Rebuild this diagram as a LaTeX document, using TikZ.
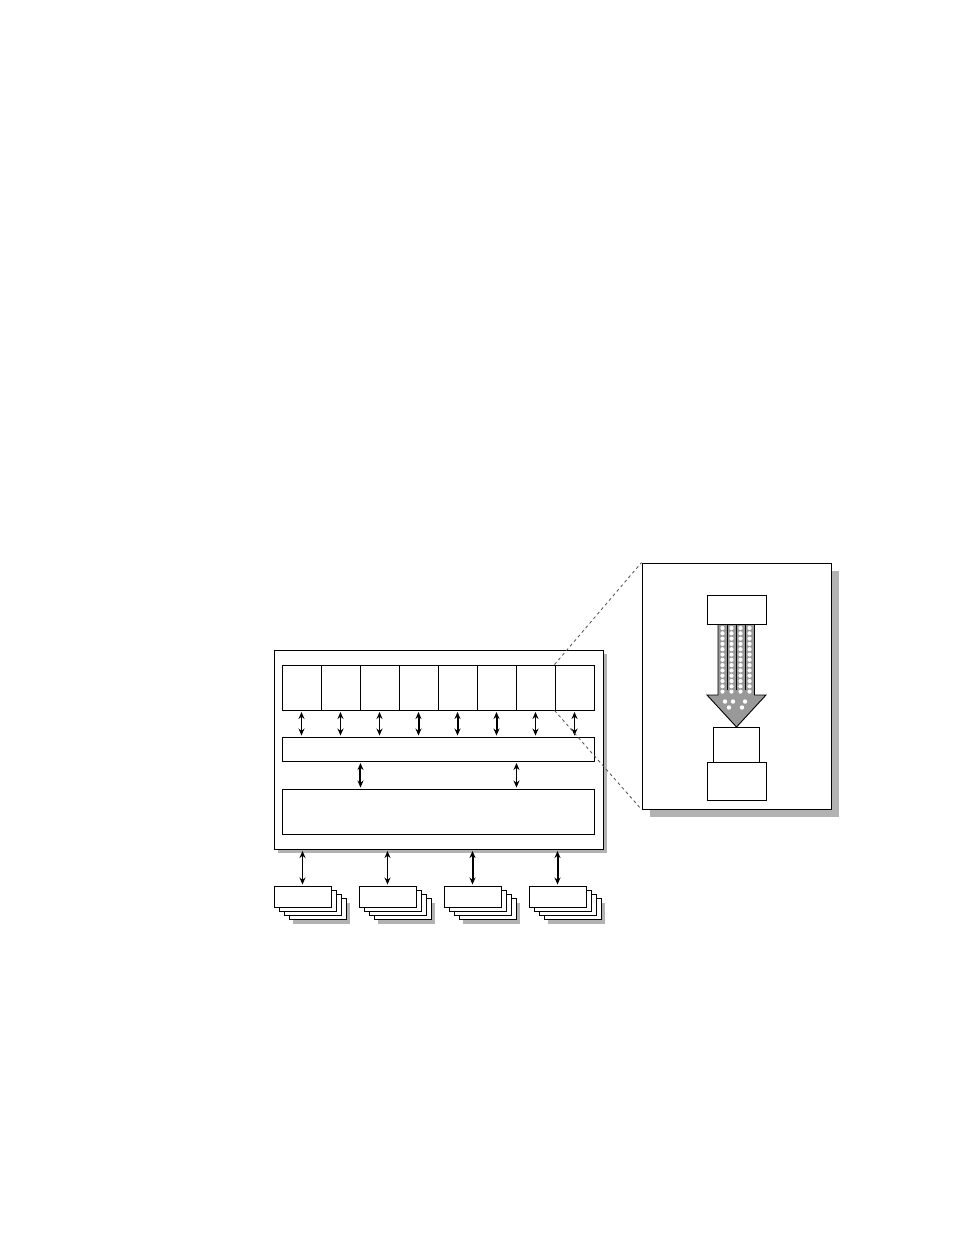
\documentclass[tikz,border=0pt]{standalone}
\usetikzlibrary{arrows.meta,positioning}

\begin{document}
\begin{tikzpicture}[x=1pt, y=-1pt,
	box/.style={draw, fill=white, line width=0.95pt, inner sep=0pt},
	shade/.style={fill=black!30, draw=none},
	link/.style={{Stealth[length=7pt,width=6pt]}-{Stealth[length=7pt,width=6pt]}, line width=1.4pt, shorten <=1.5pt, shorten >=1pt},
	heavy/.style={link, line width=2pt},
	zoomline/.style={draw=black!70, line width=0.8pt, dash pattern=on 3pt off 3pt}]
	\useasboundingbox (0, 0) rectangle (954, 1235);
	% main board
	\fill [shade] (278, 654) rectangle (607, 853);
	\node [box, minimum width=329pt, minimum height=199pt] (board) at (438.5, 749.5) {};
	\foreach \i in {1,...,8}
		\node [box, minimum width=39pt, minimum height=45pt] (cell\i) at ({282+39*(\i-0.5)}, 687.5) {};
	\node [box, minimum width=312pt, minimum height=24pt] (bus) at (438, 749) {};
	\node [box, minimum width=312pt, minimum height=45pt] (mem) at (438, 811.5) {};
	\foreach \i in {1,2,3,7,8}
		\draw [link] (cell\i.south) -- (cell\i.south |- bus.north);
	\foreach \i in {4,5,6}
		\draw [heavy] (cell\i.south) -- (cell\i.south |- bus.north);
	\draw [heavy] (bus.south -| cell2.east) -- (mem.north -| cell2.east);
	\draw [link] (bus.south -| cell6.east) -- (mem.north -| cell6.east);
	% stacked cards
	\foreach \g in {1,...,4} {
		\fill [shade] ({302.5+85*(\g-1)+19}, {896.5+13+4}) ++(-28.5, -10.5) rectangle ++(57, 21);
		\foreach \k in {3,2,1}
			\node [box, minimum width=57pt, minimum height=21pt] at ({302.5+85*(\g-1)+5*\k}, {896.5+4.3*\k}) {};
		\node [box, minimum width=57pt, minimum height=21pt] (stack\g) at ({302.5+85*(\g-1)}, 896.5) {};
	}
	\draw [link] (stack1.north |- board.south) -- (stack1.north);
	\draw [link] (stack2.north |- board.south) -- (stack2.north);
	\draw [heavy] (stack3.north |- board.south) -- (stack3.north);
	\draw [heavy] (stack4.north |- board.south) -- (stack4.north);
	% zoomed panel
	\fill [shade] (650, 571) rectangle (839, 817);
	\node [box, minimum width=189pt, minimum height=246pt] (panel) at (736.5, 686) {};
	\draw [fill=black!40, line width=0.9pt] (718, 624) -- (718, 695) -- (707, 695) -- (736.5, 727)
		-- (766, 695) -- (754.5, 695) -- (754.5, 624) -- cycle;
	\foreach \c in {722.5, 731.5, 740.5, 749.5}
		\foreach \r in {0,...,12}
			\fill [white] (\c, 628+5.3*\r) circle (2.1pt);
	\foreach \c/\r in {725/701.5, 733/701.5, 745/701.5, 729/707.5, 742/707.5}
		\fill [white] (\c, \r) circle (2.2pt);
	\foreach \c in {727, 736, 745}
		\draw [line width=0.9pt] (\c, 624) -- (\c, 690);
	\node [box, minimum width=59pt, minimum height=29pt] (src) at (736.5, 609.5) {};
	\node [box, minimum width=46pt, minimum height=35pt] (dstA) at (736, 744.5) {};
	\node [box, minimum width=59pt, minimum height=38pt] (dstB) at (736.5, 781) {};
	\draw [zoomline] (cell8.north west) -- (panel.north west);
	\draw [zoomline] (cell8.south west) -- (panel.south west);
\end{tikzpicture}
\end{document}
